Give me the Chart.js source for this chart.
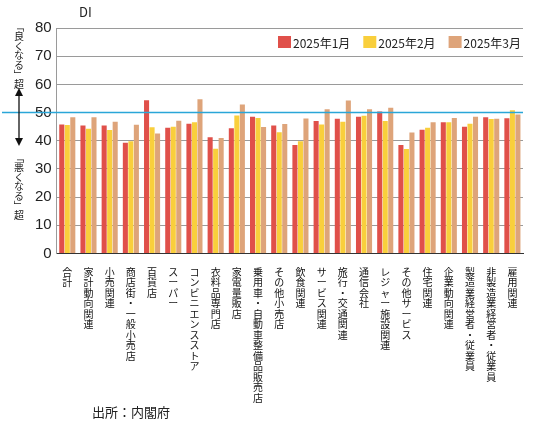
<!DOCTYPE html>
<html>
<head>
<meta charset="utf-8">
<script src="https://cdn.jsdelivr.net/npm/chart.js@4.4.1/dist/chart.umd.min.js"></script>
<style>
  html, body { margin: 0; padding: 0; background: #fff; }
  #wrap { width: 540px; height: 430px; position: relative; }
</style>
</head>
<body>
<div id="wrap"><canvas id="c" width="540" height="430"></canvas></div>
<script>
// ── DONNÉES ───────────────────────────────────────
const categories = [
  '合計', '家計動向関連', '小売関連', '商店街・一般小売店', '百貨店', 'スーパー',
  'コンビニエンスストア', '衣料品専門店', '家電量販店', '乗用車・自動車整備品販売店',
  'その他小売店', '飲食関連', 'サービス関連', '旅行・交通関連', '通信会社',
  'レジャー施設関連', 'その他サービス', '住宅関連', '企業動向関連',
  '製造業経営者・従業員', '非製造業経営者・従業員', '雇用関連'
];
const seriesNames = ['2025年1月', '2025年2月', '2025年3月'];
const jan = [45.8, 45.4, 45.4, 39.3, 54.4, 44.6, 46.0, 41.2, 44.4, 48.5, 45.4,
             38.5, 47.0, 47.8, 48.5, 50.4, 38.5, 43.9, 46.6, 45.0, 48.3, 48.0];
const feb = [45.6, 44.3, 43.8, 39.8, 44.8, 45.0, 46.6, 37.2, 49.0, 48.1, 43.0,
             39.8, 45.8, 46.7, 48.9, 47.0, 37.1, 44.6, 46.6, 46.0, 47.7, 50.8];
const mar = [48.3, 48.3, 46.7, 45.7, 42.6, 47.1, 54.7, 41.0, 52.9, 44.9, 45.9,
             47.9, 51.2, 54.3, 51.2, 51.7, 42.9, 46.6, 48.1, 48.5, 47.8, 49.3];
const yTicks = [0, 10, 20, 30, 40, 50, 60, 70, 80];
const ligneRef = 50;

const COULEURS = ['#e0504a', '#f9cf3c', '#dea47a'];
const POLICE = '"Noto Sans CJK JP", "Noto Sans", sans-serif';

// Texte vertical : un caractère par ligne
const labelsVerticaux = categories.map(c => c.split(''));

// ── PLUGIN DÉCOR (ligne 50, légende, textes latéraux) ──
const decor = {
  id: 'decor',
  afterDatasetsDraw(chart) {
    const { ctx, chartArea: a, scales: { y } } = chart;
    ctx.save();
    // ligne de référence
    const y50 = y.getPixelForValue(ligneRef);
    ctx.strokeStyle = '#2aa6d8';
    ctx.lineWidth = 1.5;
    ctx.beginPath(); ctx.moveTo(2, y50); ctx.lineTo(a.right, y50); ctx.stroke();

    // légende
    ctx.font = '12px ' + POLICE;
    ctx.textBaseline = 'middle';
    let x = 278;
    const ly = 42;
    chart.data.datasets.forEach(ds => {
      ctx.fillStyle = ds.backgroundColor;
      ctx.fillRect(x, ly - 6, 13, 12);
      ctx.fillStyle = '#222';
      ctx.textAlign = 'left';
      ctx.fillText(ds.label, x + 15, ly + 1);
      x += ctx.measureText(ds.label).width + 28;
    });

    // DI
    ctx.font = '13px ' + POLICE;
    ctx.fillText('DI', 79, 12);

    // textes verticaux à gauche
    ctx.font = '10px ' + POLICE;
    ctx.textAlign = 'center';
    const vertical = (txt, cx, top) => {
      txt.split('').forEach((ch, i) => {
        const cy = top + i * 9.5;
        ctx.save();
        ctx.translate(cx, cy);
        if (ch === '「' || ch === '」') ctx.rotate(Math.PI / 2);
        ctx.fillText(ch, 0, 0);
        ctx.restore();
      });
    };
    vertical('「良くなる」超', 19, 27);
    vertical('「悪くなる」超', 19, 158);
    // flèche double
    ctx.strokeStyle = '#111';
    ctx.fillStyle = '#111';
    ctx.lineWidth = 1.3;
    ctx.beginPath(); ctx.moveTo(19, 94); ctx.lineTo(19, 140); ctx.stroke();
    ctx.beginPath(); ctx.moveTo(19, 88); ctx.lineTo(15, 96); ctx.lineTo(23, 96); ctx.fill();
    ctx.beginPath(); ctx.moveTo(19, 146); ctx.lineTo(15, 138); ctx.lineTo(23, 138); ctx.fill();

    // source
    ctx.font = '13px ' + POLICE;
    ctx.textAlign = 'left';
    ctx.fillStyle = '#222';
    ctx.fillText('出所：内閣府', 92, 412);
    ctx.restore();
  }
};

// ── GRAPHIQUE ─────────────────────────────────────
new Chart(document.getElementById('c'), {
  type: 'bar',
  data: {
    labels: labelsVerticaux,
    datasets: [jan, feb, mar].map((d, i) => ({
      label: seriesNames[i],
      data: d,
      backgroundColor: COULEURS[i],
      borderWidth: 0,
      categoryPercentage: 0.78,
      barPercentage: 0.92
    }))
  },
  options: {
    responsive: false,
    animation: false,
    devicePixelRatio: 1,
    layout: { padding: { left: 30, right: 17, top: 28, bottom: 22 } },
    plugins: { legend: { display: false }, tooltip: { enabled: false } },
    scales: {
      x: {
        grid: { display: false },
        border: { color: '#333' },
        ticks: {
          color: '#111', maxRotation: 0, minRotation: 0, autoSkip: false, padding: 5,
          font: { family: POLICE, size: 10, lineHeight: 1.05 }
        }
      },
      y: {
        min: 0, max: 80,
        afterBuildTicks: ax => { ax.ticks = yTicks.map(v => ({ value: v })); },
        grid: { color: '#9a9a9a', drawTicks: false },
        border: { display: true, color: '#9a9a9a' },
        ticks: { color: '#222', padding: 5, font: { family: 'Liberation Sans, sans-serif', size: 15 } }
      }
    }
  },
  plugins: [decor]
});
</script>
</body>
</html>
